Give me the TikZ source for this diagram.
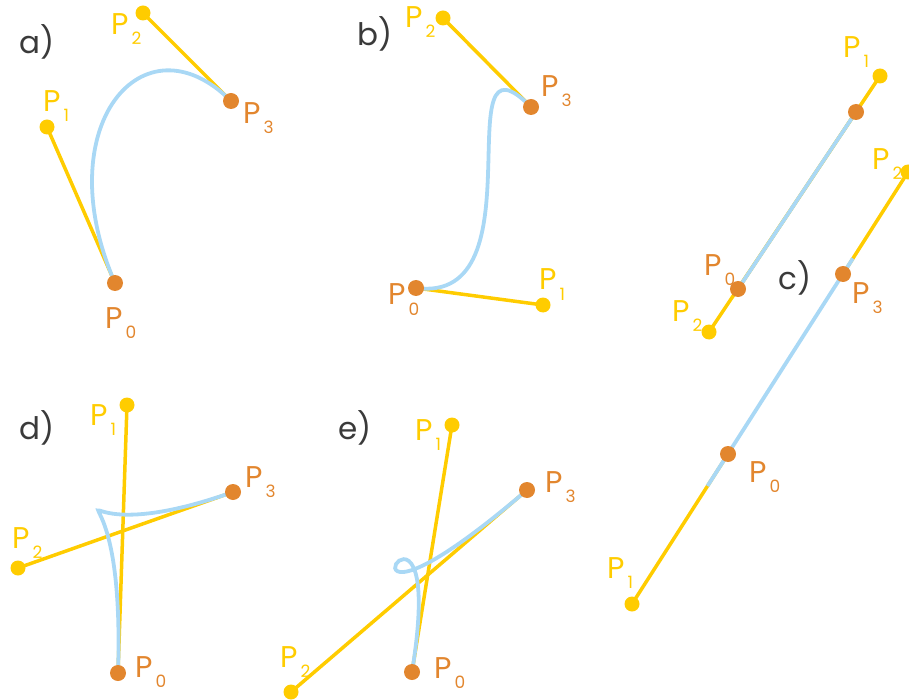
\documentclass[tikz,border=0pt]{standalone}
\usepackage{fontspec}
\setmainfont{Poppins}
\definecolor{ylw}{HTML}{FFCC00}
\definecolor{org}{HTML}{E2862E}
\definecolor{blu}{HTML}{A9D8F5}
\definecolor{dgr}{HTML}{3A3A3A}
\newcommand\Plab[1]{P\kern3pt\raisebox{-10pt}{\fontsize{17}{17}\selectfont #1}}
\tikzset{
  ctrl/.style={draw=ylw, line width=3.5pt},
  curv/.style={draw=blu, line width=3.8pt},
  ydot/.style={fill=ylw},
  odot/.style={fill=org},
  ylab/.style={text=ylw, anchor=base west, inner sep=0pt, font=\fontsize{30}{30}\selectfont},
  olab/.style={text=org, anchor=base west, inner sep=0pt, font=\fontsize{30}{30}\selectfont},
  plab/.style={text=dgr, inner sep=0pt, font=\fontsize{31}{31}\selectfont}
}
\begin{document}
\begin{tikzpicture}[x=1pt,y=-1pt]
\useasboundingbox (0,0) rectangle (909,700);
% ---------- coordinates ----------
% a
\coordinate (a0) at (115,283); \coordinate (a1) at (47,127);
\coordinate (a2) at (143,13);  \coordinate (a3) at (231,101);
% b
\coordinate (b0) at (416,288); \coordinate (b1) at (543,305);
\coordinate (b2) at (443,18);  \coordinate (b3) at (531,107);
% c upper
\coordinate (c0) at (738,289); \coordinate (c1) at (880,76);
\coordinate (c2) at (709,332); \coordinate (c3) at (856,112);
% c lower
\coordinate (k0) at (728,454); \coordinate (k1) at (632,604);
\coordinate (k2) at (908,172); \coordinate (k3) at (843,274);
% d
\coordinate (d0) at (118,673); \coordinate (d1) at (127,405);
\coordinate (d2) at (18,568);  \coordinate (d3) at (233,492);
% e
\coordinate (e0) at (412,672); \coordinate (e1) at (452,425);
\coordinate (e2) at (291,692); \coordinate (e3) at (527,490);
% ---------- control lines ----------
\foreach \p in {a,b,c,k,d,e}{
  \draw[ctrl] (\p0) -- (\p1);
  \draw[ctrl] (\p3) -- (\p2);
}
% ---------- curves ----------
\foreach \p in {a,b,c,k,d,e}{
  \draw[curv] (\p0) .. controls (\p1) and (\p2) .. (\p3);
}
% ---------- dots ----------
\foreach \p in {a,b,c,k,d,e}{
  \fill[ydot] (\p1) circle (7.5);
  \fill[ydot] (\p2) circle (7.5);
  \fill[odot] (\p0) circle (8);
  \fill[odot] (\p3) circle (8);
}
% ---------- labels ----------
\node[plab] (la) at (37,42) {a)};
\node[plab] (lb) at (375,34) {b)};
\node[plab] (lc) at (795,278) {c)};
\node[plab] (ld) at (37,428) {d)};
\node[plab] (le) at (355,428) {e)};
% a
\node[olab] (ta0) at (105,328) {\Plab{0}};
\node[ylab] (ta1) at (43,112) {\Plab{1}};
\node[ylab] (ta2) at (111,35) {\Plab{2}};
\node[olab] (ta3) at (243,124) {\Plab{3}};
% b
\node[ylab] (tb2) at (405,28) {\Plab{2}};
\node[olab] (tb3) at (541,97) {\Plab{3}};
\node[olab] (tb0) at (388,305) {\Plab{0}};
\node[ylab] (tb1) at (539,290) {\Plab{1}};
% c
\node[ylab] (tc1) at (843,58) {\Plab{1}};
\node[olab] (tc0) at (704,276) {\Plab{0}};
\node[ylab] (tc2) at (672,321) {\Plab{2}};
\node[ylab] (tk2) at (872,170) {\Plab{2}};
\node[olab] (tk3) at (852,303) {\Plab{3}};
\node[olab] (tk0) at (749,482) {\Plab{0}};
\node[ylab] (tk1) at (607,578) {\Plab{1}};
% d
\node[ylab] (td1) at (90,425) {\Plab{1}};
\node[olab] (td3) at (245,487) {\Plab{3}};
\node[ylab] (td2) at (12,548) {\Plab{2}};
\node[olab] (td0) at (135,677) {\Plab{0}};
% e
\node[ylab] (te1) at (415,440) {\Plab{1}};
\node[olab] (te3) at (545,492) {\Plab{3}};
\node[ylab] (te2) at (280,667) {\Plab{2}};
\node[olab] (te0) at (434,678) {\Plab{0}};
\end{tikzpicture}
\end{document}
